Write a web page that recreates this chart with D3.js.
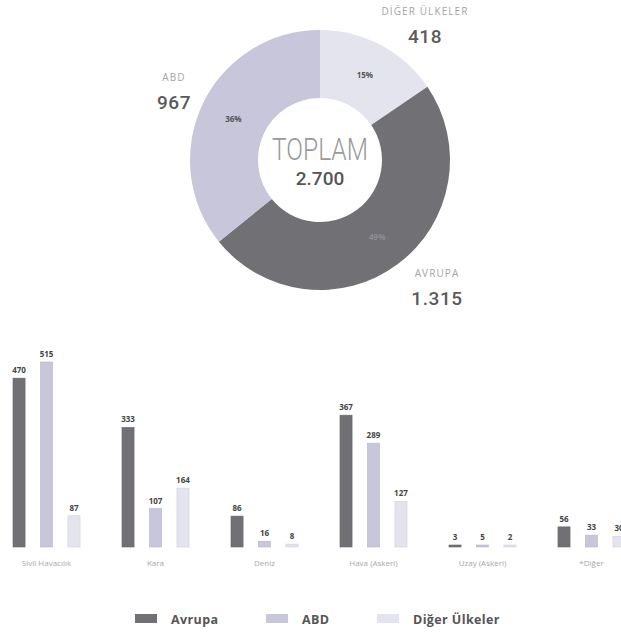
<!DOCTYPE html>
<html>
<head>
<meta charset="utf-8">
<script src="https://cdn.jsdelivr.net/npm/d3@7"></script>
<style>
  body { margin: 0; background: #fff; }
  svg { display: block; font-family: "Open Sans", sans-serif; }
</style>
</head>
<body>
<div id="chart"></div>
<script>
var series = ["Avrupa", "ABD", "Diğer Ülkeler"];
var totals = [1315, 967, 418];
var totalLabels = ["1.315", "967", "418"];
var donutNames = ["AVRUPA", "ABD", "DİĞER ÜLKELER"];
var percents = ["49%", "36%", "15%"];
var totalText = "2.700";

var categories = ["Sivil Havacılık", "Kara", "Deniz", "Hava (Askeri)", "Uzay (Askeri)", "*Diğer"];
var avrupa = [470, 333, 86, 367, 3, 56];
var abd = [515, 107, 16, 289, 5, 33];
var diger = [87, 164, 8, 127, 2, 30];

var colors = ["#707075", "#c7c6da", "#e4e4ee"];

var W = 621, H = 634;
var svg = d3.select("#chart").append("svg")
    .attr("width", W)
    .attr("height", H);

// ---- donut ----
var cx = 320, cy = 160;
var outerR = 130, innerR = 62;

// ring order clockwise from 12 o'clock: Diğer, Avrupa, ABD
var ringOrder = [2, 0, 1];
var pie = d3.pie().sort(null).value(function(i) { return totals[i]; });
var arcs = pie(ringOrder);
var arc = d3.arc().innerRadius(innerR).outerRadius(outerR);
var labelArc = d3.arc().innerRadius(96).outerRadius(96);

var donut = svg.append("g").attr("transform", "translate(" + cx + "," + cy + ")");

donut.selectAll("path")
    .data(arcs)
  .enter().append("path")
    .attr("d", arc)
    .attr("fill", function(d) { return colors[d.data]; });

donut.selectAll(".pct")
    .data(arcs)
  .enter().append("text")
    .attr("class", "pct")
    .attr("x", function(d) { return labelArc.centroid(d)[0]; })
    .attr("y", function(d) { return labelArc.centroid(d)[1] + 3; })
    .attr("text-anchor", "middle")
    .attr("font-size", 8)
    .attr("font-weight", 700)
    .attr("fill", function(d) { return d.data == 0 ? "#8e8e94" : "#555"; })
    .text(function(d) { return percents[d.data]; });

donut.append("text")
    .attr("x", 0).attr("y", 0)
    .attr("text-anchor", "middle")
    .attr("font-family", "Roboto, sans-serif")
    .attr("font-size", 31)
    .attr("font-weight", 300)
    .attr("textLength", 96)
    .attr("lengthAdjust", "spacingAndGlyphs")
    .attr("fill", "#9a9a9a")
    .text("TOPLAM");

donut.append("text")
    .attr("x", 0).attr("y", 25)
    .attr("text-anchor", "middle")
    .attr("font-family", "Roboto, sans-serif")
    .attr("font-size", 19)
    .attr("font-weight", 500)
    .attr("fill", "#555")
    .text(totalText);

// outside labels: name + value
var outside = [
  { i: 2, x: 425, y: 15 },
  { i: 1, x: 174, y: 81 },
  { i: 0, x: 437, y: 277 }
];
outside.forEach(function(o) {
  svg.append("text")
      .attr("x", o.x).attr("y", o.y)
      .attr("text-anchor", "middle")
      .attr("font-size", 10)
      .attr("letter-spacing", 1.1)
      .attr("fill", "#a4a4a4")
      .text(donutNames[o.i]);
  svg.append("text")
      .attr("x", o.x).attr("y", o.y + 28)
      .attr("text-anchor", "middle")
      .attr("font-family", "Roboto, sans-serif")
      .attr("font-size", 19)
      .attr("font-weight", 500)
      .attr("letter-spacing", 0.6)
      .attr("fill", "#5a5a5a")
      .text(totalLabels[o.i]);
});

// ---- grouped bars ----
var baseY = 547;
var barTop = 362;

var x0 = d3.scaleBand()
    .domain(categories)
    .range([13, 625])
    .paddingInner(0.385)
    .paddingOuter(0);

var x1 = d3.scaleBand()
    .domain(d3.range(series.length))
    .range([0, x0.bandwidth()])
    .paddingInner(0.56)
    .paddingOuter(0);

var y = d3.scaleLinear()
    .domain([0, 515])
    .range([baseY, barTop]);

var seriesValues = [avrupa, abd, diger];

var groups = svg.selectAll(".group")
    .data(categories)
  .enter().append("g")
    .attr("class", "group")
    .attr("transform", function(d) { return "translate(" + x0(d) + ",0)"; });

function cells(d, ci) {
  return seriesValues.map(function(v, si) { return { s: si, v: v[ci] }; });
}

groups.selectAll("rect")
    .data(cells)
  .enter().append("rect")
    .attr("x", function(d) { return x1(d.s); })
    .attr("width", x1.bandwidth())
    .attr("y", function(d) { return Math.min(y(d.v), baseY - 2); })
    .attr("height", function(d) { return Math.max(baseY - y(d.v), 2); })
    .attr("fill", function(d) { return colors[d.s]; })
    .attr("stroke", function(d) { return d3.color(colors[d.s]).darker(0.25); })
    .attr("stroke-width", 0.6);

groups.selectAll(".val")
    .data(cells)
  .enter().append("text")
    .attr("class", "val")
    .attr("x", function(d) { return x1(d.s) + x1.bandwidth() / 2; })
    .attr("y", function(d) { return Math.min(y(d.v), baseY - 2) - 5; })
    .attr("text-anchor", "middle")
    .attr("font-size", 8)
    .attr("font-weight", 700)
    .attr("fill", "#444")
    .text(function(d) { return d.v; });

svg.selectAll(".cat")
    .data(categories)
  .enter().append("text")
    .attr("class", "cat")
    .attr("x", function(d) { return x0(d) + x0.bandwidth() / 2; })
    .attr("y", 566)
    .attr("text-anchor", "middle")
    .attr("font-size", 8)
    .attr("fill", "#a8a8a8")
    .text(function(d) { return d; });

// ---- legend ----
var legendX = [135, 266, 377];
var legend = svg.selectAll(".legend")
    .data(series)
  .enter().append("g")
    .attr("class", "legend")
    .attr("transform", function(d, i) { return "translate(" + legendX[i] + ",614)"; });

legend.append("rect")
    .attr("width", 22)
    .attr("height", 9)
    .attr("fill", function(d, i) { return colors[i]; });

legend.append("text")
    .attr("x", 36)
    .attr("y", 9.5)
    .attr("font-size", 12.5)
    .attr("font-weight", 700)
    .attr("letter-spacing", 0.4)
    .attr("fill", "#555")
    .text(function(d) { return d; });
</script>
</body>
</html>
